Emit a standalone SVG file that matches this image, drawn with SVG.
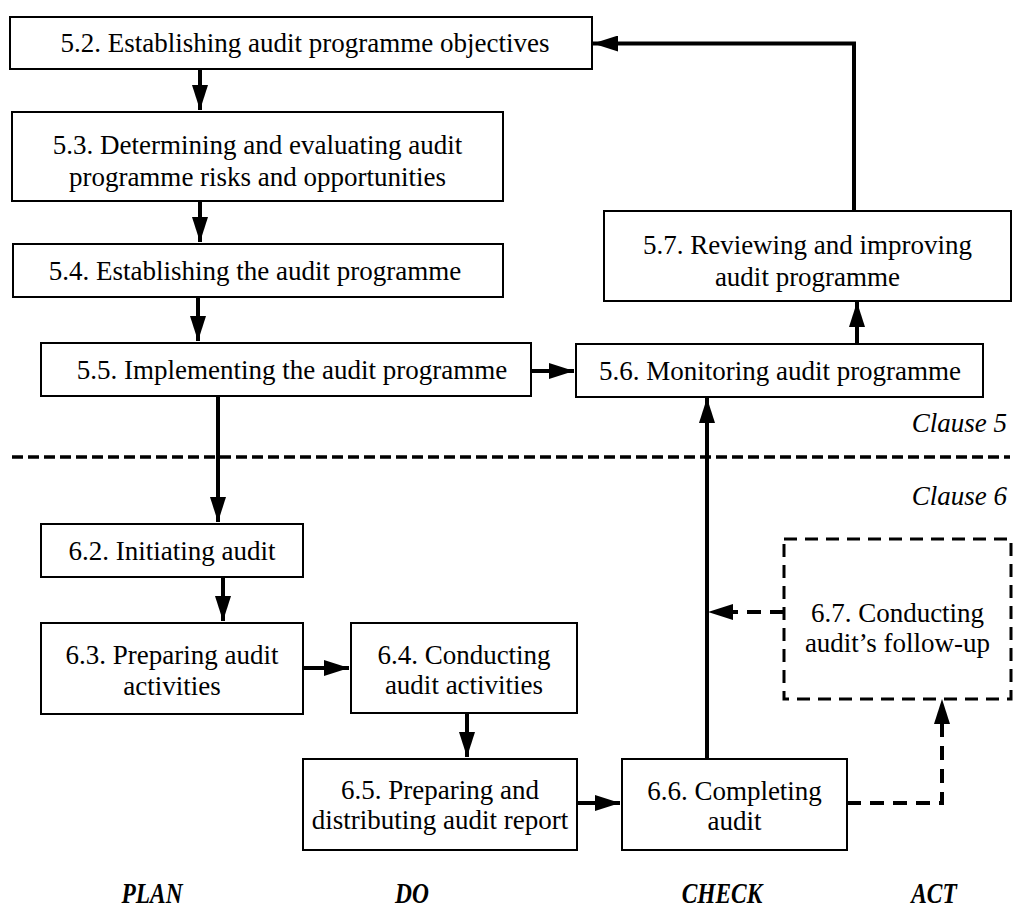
<svg xmlns="http://www.w3.org/2000/svg" width="1018" height="912" viewBox="0 0 1018 912">
<defs>
<style>
.box{fill:#fff;stroke:#000;stroke-width:2}
.dbox{fill:#fff;stroke:#000;stroke-width:3;stroke-dasharray:13 8}
.t{font-family:"Liberation Serif","Times New Roman",serif;font-size:27px;fill:#000;text-anchor:middle}
.cl{font-family:"Liberation Serif","Times New Roman",serif;font-size:27px;font-style:italic;fill:#000;text-anchor:end}
.ph{font-family:"Liberation Serif","Times New Roman",serif;font-size:30px;font-style:italic;font-weight:bold;fill:#000;text-anchor:middle}
.c{fill:none;stroke:#000;stroke-width:4}
.cd{fill:none;stroke:#000;stroke-width:4;stroke-dasharray:14 9}
</style>
<marker id="ah" viewBox="0 0 25 16" refX="25" refY="8" markerWidth="25" markerHeight="16" markerUnits="userSpaceOnUse" orient="auto">
<path d="M0,0 L25,8 L0,16 Z" fill="#000"/>
</marker>
</defs>
<rect width="1018" height="912" fill="#fff"/>

<line x1="12" y1="457" x2="1010" y2="457" stroke="#000" stroke-width="3.5" stroke-dasharray="11 5"/>
<text class="cl" x="1007" y="432">Clause 5</text>
<text class="cl" x="1007" y="505">Clause 6</text>

<g id="connectors">
<path class="c" d="M200,69 V110" marker-end="url(#ah)"/>
<path class="c" d="M200,201 V242" marker-end="url(#ah)"/>
<path class="c" d="M198,297 V341" marker-end="url(#ah)"/>
<path class="c" d="M531,371 H574" marker-end="url(#ah)"/>
<path class="c" d="M857,344 V302" marker-end="url(#ah)"/>
<path class="c" d="M854,211 V43.5 H593" marker-end="url(#ah)"/>
<path class="c" d="M218,396 V522" marker-end="url(#ah)"/>
<path class="c" d="M223,577 V621" marker-end="url(#ah)"/>
<path class="c" d="M303,668 H349" marker-end="url(#ah)"/>
<path class="c" d="M467,713 V757" marker-end="url(#ah)"/>
<path class="c" d="M577,803 H620" marker-end="url(#ah)"/>
<path class="c" d="M707,759 V398" marker-end="url(#ah)"/>
<path class="cd" d="M784,612 H733"/>
<path d="M733,604 L708,612 L733,620 Z" fill="#000"/>
<path class="cd" d="M847,803 H942 V724"/>
<path d="M934,724 L942,699 L950,724 Z" fill="#000"/>
</g>

<g id="n52"><rect class="box" x="10" y="17" width="582" height="52"/><text class="t" x="305" y="52">5.2. Establishing audit programme objectives</text></g>
<g id="n53"><rect class="box" x="12" y="112" width="491" height="89"/><text class="t" x="257.5" y="154">5.3. Determining and evaluating audit</text><text class="t" x="257.5" y="186">programme risks and opportunities</text></g>
<g id="n54"><rect class="box" x="13" y="244" width="490" height="53"/><text class="t" x="255" y="280">5.4. Establishing the audit programme</text></g>
<g id="n55"><rect class="box" x="41" y="343" width="490" height="53"/><text class="t" x="292" y="379">5.5. Implementing the audit programme</text></g>
<g id="n56"><rect class="box" x="576" y="344" width="407" height="53"/><text class="t" x="780" y="380">5.6. Monitoring audit programme</text></g>
<g id="n57"><rect class="box" x="604" y="211" width="407" height="90"/><text class="t" x="807.5" y="254">5.7. Reviewing and improving</text><text class="t" x="807.5" y="286">audit programme</text></g>
<g id="n62"><rect class="box" x="41" y="524" width="262" height="53"/><text class="t" x="172" y="560">6.2. Initiating audit</text></g>
<g id="n63"><rect class="box" x="41" y="623" width="262" height="91"/><text class="t" x="172" y="664">6.3. Preparing audit</text><text class="t" x="172" y="695">activities</text></g>
<g id="n64"><rect class="box" x="351" y="623" width="226" height="90"/><text class="t" x="464" y="664">6.4. Conducting</text><text class="t" x="464" y="694">audit activities</text></g>
<g id="n65"><rect class="box" x="303" y="759" width="274" height="91"/><text class="t" x="440" y="799">6.5. Preparing and</text><text class="t" x="440" y="829">distributing audit report</text></g>
<g id="n66"><rect class="box" x="622" y="759" width="225" height="91"/><text class="t" x="734.5" y="800">6.6. Completing</text><text class="t" x="734.5" y="830">audit</text></g>
<g id="n67"><rect class="dbox" x="784" y="539" width="227" height="160"/><text class="t" x="897.5" y="622">6.7. Conducting</text><text class="t" x="897.5" y="652">audit’s follow-up</text></g>

<text class="ph" transform="translate(152,903) scale(0.78,1)">PLAN</text>
<text class="ph" transform="translate(412,903) scale(0.78,1)">DO</text>
<text class="ph" transform="translate(722,903) scale(0.78,1)">CHECK</text>
<text class="ph" transform="translate(934,903) scale(0.78,1)">ACT</text>
</svg>
